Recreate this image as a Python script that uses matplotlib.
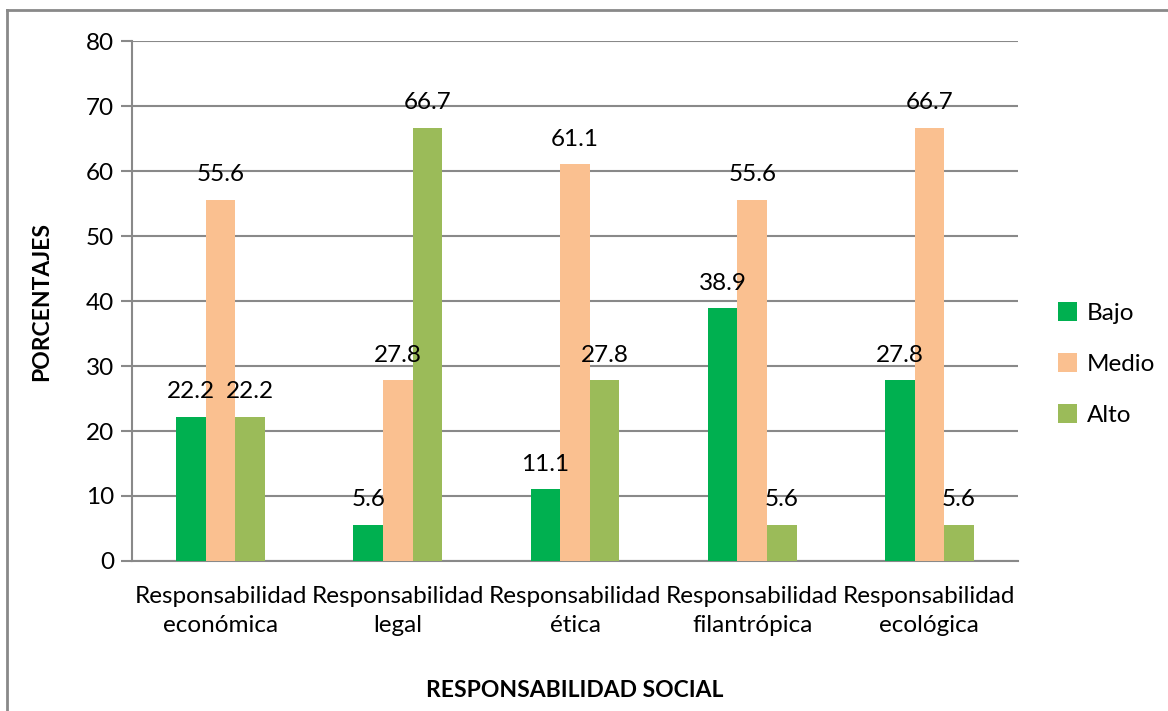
import matplotlib.pyplot as plt
import numpy as np
from matplotlib.lines import Line2D

plt.rcParams["font.family"] = ["Lato", "DejaVu Sans"]

categories = [
    "Responsabilidad\necon\u00f3mica",
    "Responsabilidad\nlegal",
    "Responsabilidad\n\u00e9tica",
    "Responsabilidad\nfilantr\u00f3pica",
    "Responsabilidad\necol\u00f3gica",
]
series_names = ["Bajo", "Medio", "Alto"]
bajo = [22.2, 5.6, 11.1, 38.9, 27.8]
medio = [55.6, 27.8, 61.1, 55.6, 66.7]
alto = [22.2, 66.7, 27.8, 5.6, 5.6]
colors = ["#00B050", "#FAC090", "#9BBB59"]

figure = plt.figure(figsize=(11.68, 7.11), dpi=100)
axis = figure.add_axes([0.113, 0.211, 0.7586, 0.7312])

x = np.arange(len(categories))
width = 0.1667
for i, (name, values) in enumerate(zip(series_names, [bajo, medio, alto])):
    bars = axis.bar(x + (i - 1) * width, values, width=width, color=colors[i], label=name, zorder=3)
    for bar, v in zip(bars, values):
        axis.text(bar.get_x() + bar.get_width() / 2, v + 2.2, f"{v:.1f}",
                  ha="center", va="bottom", fontsize=17.5, zorder=4)

axis.set_xlim(-0.5, len(categories) - 0.5)
axis.set_ylim(0, 80)
axis.set_yticks(np.arange(0, 81, 10))
axis.tick_params(axis="y", labelsize=17.5, length=8, width=1.5, color="#898989", pad=5)
axis.tick_params(axis="x", length=0, labelsize=17.5, pad=18)
axis.set_xticks(x, labels=categories, linespacing=1.45)
axis.grid(axis="y", color="#898989", linewidth=1.5, zorder=0)
for side in ["top", "right"]:
    axis.spines[side].set_visible(False)
axis.spines["left"].set_color("#898989")
axis.spines["left"].set_linewidth(1.5)
axis.spines["bottom"].set_color("#898989")
axis.spines["bottom"].set_linewidth(1.5)

axis.set_ylabel("PORCENTAJES", fontsize=16.5, fontweight="bold", labelpad=24)
axis.set_xlabel("RESPONSABILIDAD SOCIAL", fontsize=16.5, fontweight="bold", labelpad=32)

axis.legend(loc="center left", bbox_to_anchor=(1.02, 0.379), frameon=False, fontsize=17.5,
            handlelength=0.8, handleheight=0.8, labelspacing=1.2, handletextpad=0.4)

# chart border (left and top visible)
figure.add_artist(Line2D([7 / 1168, 7 / 1168], [0, 1 - 10 / 711], color="#898989", linewidth=2,
                         transform=figure.transFigure))
figure.add_artist(Line2D([7 / 1168, 1], [1 - 10 / 711, 1 - 10 / 711], color="#898989", linewidth=2,
                         transform=figure.transFigure))

figure.savefig("out.png", dpi=100)
